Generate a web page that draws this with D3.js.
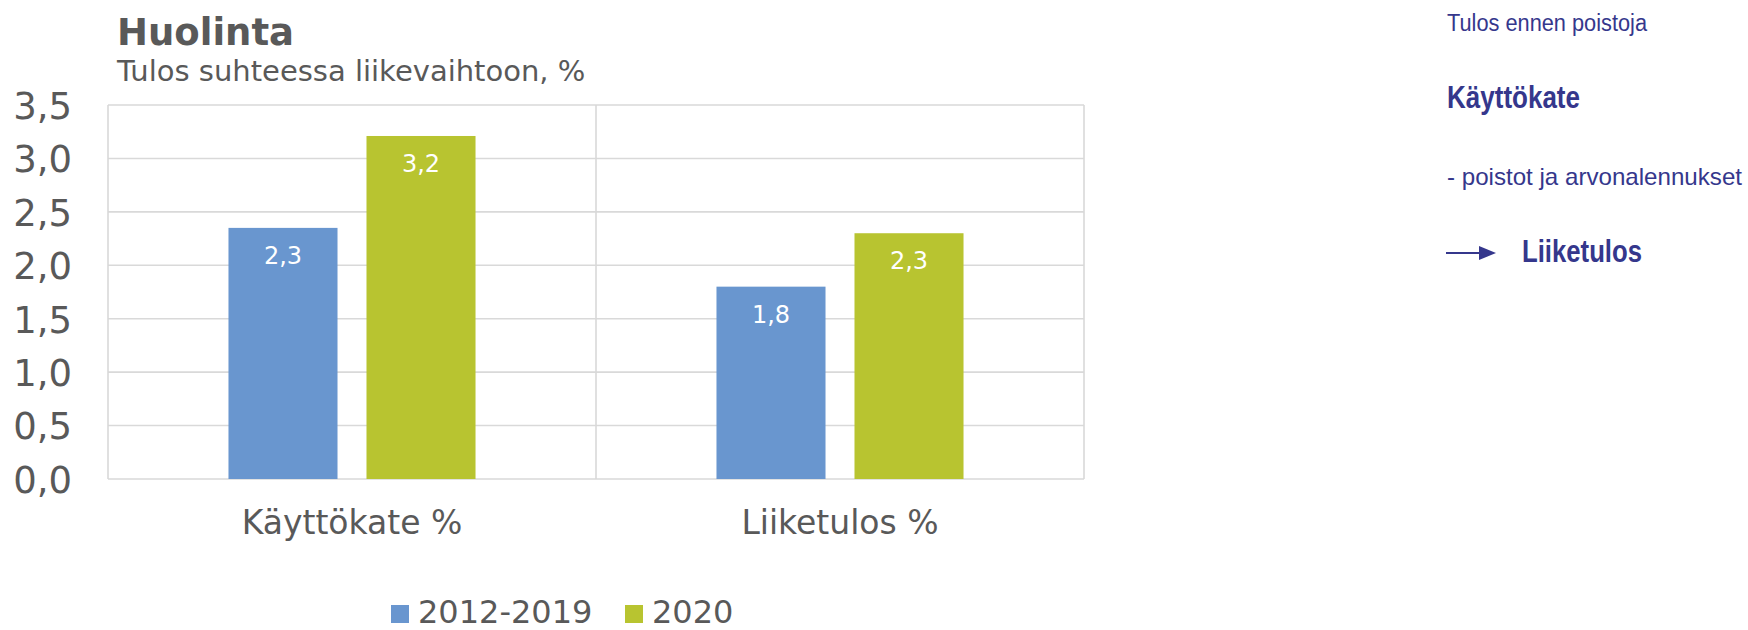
<!DOCTYPE html>
<html>
<head>
<meta charset="utf-8">
<script src="https://cdn.jsdelivr.net/npm/d3@7"></script>
<style>
  body { margin: 0; background: #fff; }
  svg { display: block; }
</style>
</head>
<body>
<script>

var categories = ["Käyttökate %", "Liiketulos %"];
var seriesNames = ["2012-2019", "2020"];
var values2012to2019 = [2.35, 1.80];
var values2020 = [3.21, 2.30];
var labels2012to2019 = ["2,3", "1,8"];
var labels2020 = ["3,2", "2,3"];
var yTicks = [0, 0.5, 1, 1.5, 2, 2.5, 3, 3.5];
var notes = ["Tulos ennen poistoja", "Käyttökate", "- poistot ja arvonalennukset", "Liiketulos"];

var seriesColors = ["#6996cf", "#b8c430"];
var textGray = "#595959";
var gridColor = "#d9d9d9";
var noteColor = "#35378c";
var font = "'DejaVu Sans', Verdana, sans-serif";

var width = 1748, height = 630;
var margin = {left: 108, right: 1084, top: 105, bottom: 479};

var svg = d3.select("body").append("svg")
    .attr("width", width)
    .attr("height", height);

var x = d3.scaleBand()
    .domain(categories)
    .range([margin.left, margin.right]);

var xInner = d3.scaleBand()
    .domain(seriesNames)
    .range([0, x.bandwidth()])
    .paddingInner(0.21)
    .paddingOuter(0.873);

var y = d3.scaleLinear()
    .domain([0, 3.5])
    .range([margin.bottom, margin.top]);

// gridlines
var grid = svg.append("g").attr("id", "grid");
grid.selectAll(".hline")
    .data(yTicks)
    .enter().append("line")
    .attr("x1", margin.left).attr("x2", margin.right)
    .attr("y1", function(d) { return y(d); })
    .attr("y2", function(d) { return y(d); })
    .attr("stroke", gridColor).attr("stroke-width", 1.6);

var vlines = [margin.left].concat(categories.map(function(c) { return x(c) + x.bandwidth(); }));
grid.selectAll(".vline")
    .data(vlines)
    .enter().append("line")
    .attr("x1", function(d) { return d; }).attr("x2", function(d) { return d; })
    .attr("y1", margin.top).attr("y2", margin.bottom)
    .attr("stroke", gridColor).attr("stroke-width", 1.6);

// y axis labels
var yAxis = d3.axisLeft(y)
    .tickValues(yTicks)
    .tickSize(0)
    .tickPadding(0)
    .tickFormat(function(d) { return d3.format(".1f")(d).replace(".", ","); });

var yg = svg.append("g")
    .attr("transform", "translate(72,0)")
    .call(yAxis);
yg.select(".domain").remove();
yg.selectAll("text")
    .attr("font-family", font)
    .attr("font-size", 37)
    .attr("fill", textGray)
    .attr("dy", "0.36em");

// x axis labels
var xAxis = d3.axisBottom(x).tickSize(0).tickPadding(0);
var xg = svg.append("g")
    .attr("transform", "translate(0,534)")
    .call(xAxis);
xg.select(".domain").remove();
xg.selectAll("text")
    .attr("font-family", font)
    .attr("font-size", 33)
    .attr("fill", textGray)
    .attr("dy", 0);

// bars
var series = [
  {name: seriesNames[0], values: values2012to2019, labels: labels2012to2019, color: seriesColors[0]},
  {name: seriesNames[1], values: values2020, labels: labels2020, color: seriesColors[1]}
];

var barsGroup = svg.append("g").attr("id", "bars");
series.forEach(function(s) {
  var g = barsGroup.append("g");
  g.selectAll("rect")
      .data(categories)
      .enter().append("rect")
      .attr("x", function(c) { return x(c) + xInner(s.name); })
      .attr("y", function(c, i) { return y(s.values[i]); })
      .attr("width", xInner.bandwidth())
      .attr("height", function(c, i) { return y(0) - y(s.values[i]); })
      .attr("fill", s.color);

  g.selectAll("text")
      .data(categories)
      .enter().append("text")
      .attr("x", function(c) { return x(c) + xInner(s.name) + xInner.bandwidth() / 2; })
      .attr("y", function(c, i) { return y(s.values[i]) + 36; })
      .attr("text-anchor", "middle")
      .attr("font-family", font)
      .attr("font-size", 24)
      .attr("fill", "#fff")
      .text(function(c, i) { return s.labels[i]; });
});

// title
svg.append("text")
    .attr("x", 117).attr("y", 45)
    .attr("font-family", font)
    .attr("font-size", 37)
    .attr("font-weight", "bold")
    .attr("fill", textGray)
    .text("Huolinta");

svg.append("text")
    .attr("x", 117).attr("y", 81)
    .attr("font-family", font)
    .attr("font-size", 29)
    .attr("fill", textGray)
    .text("Tulos suhteessa liikevaihtoon, %");

// legend
var legendX = [391, 625];
var legend = svg.append("g").attr("id", "legend");
seriesNames.forEach(function(name, i) {
  legend.append("rect")
      .attr("x", legendX[i]).attr("y", 605)
      .attr("width", 18).attr("height", 18)
      .attr("fill", seriesColors[i]);
  legend.append("text")
      .attr("x", legendX[i] + 27).attr("y", 623)
      .attr("font-family", font)
      .attr("font-size", 32)
      .attr("fill", textGray)
      .text(name);
});

// side notes
var side = svg.append("g").attr("id", "notes")
    .attr("font-family", "'Liberation Sans', Arial, sans-serif")
    .attr("fill", noteColor);

side.append("text").attr("x", 1447).attr("y", 31)
    .attr("font-size", 23).attr("textLength", 200).attr("lengthAdjust", "spacingAndGlyphs")
    .text(notes[0]);
side.append("text").attr("x", 1447).attr("y", 108)
    .attr("font-size", 31).attr("font-weight", "bold")
    .attr("textLength", 133).attr("lengthAdjust", "spacingAndGlyphs")
    .text(notes[1]);
side.append("text").attr("x", 1447).attr("y", 185)
    .attr("font-size", 24).attr("textLength", 295).attr("lengthAdjust", "spacingAndGlyphs")
    .text(notes[2]);
side.append("text").attr("x", 1522).attr("y", 262)
    .attr("font-size", 31).attr("font-weight", "bold")
    .attr("textLength", 120).attr("lengthAdjust", "spacingAndGlyphs")
    .text(notes[3]);

side.append("line")
    .attr("x1", 1446).attr("x2", 1482)
    .attr("y1", 253).attr("y2", 253)
    .attr("stroke", noteColor).attr("stroke-width", 2.2);
side.append("path")
    .attr("d", "M1479,246L1496,253L1479,260Z");

</script>
</body>
</html>
